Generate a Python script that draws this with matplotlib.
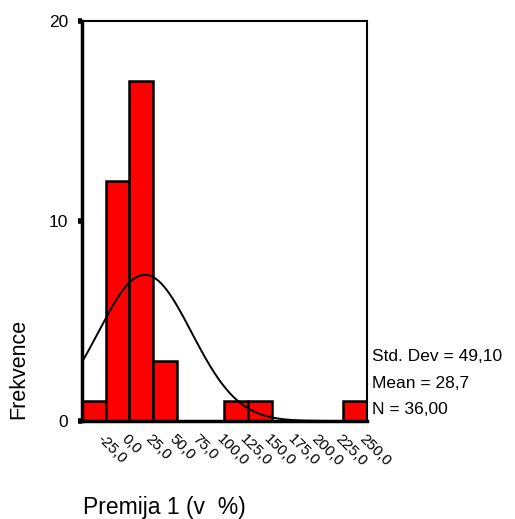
import numpy as np
import matplotlib.pyplot as plt
from matplotlib.transforms import ScaledTranslation

plt.rcParams["font.family"] = ["Liberation Sans", "DejaVu Sans"]

# histogram of Premija 1 (v %), bin width 25
BIN_CENTERS = [-25, 0, 25, 50, 75, 100, 125, 150, 175, 200, 225, 250]
COUNTS = [1, 12, 17, 3, 0, 0, 1, 1, 0, 0, 0, 1]
TICK_LABELS = ["-25,0", "0,0", "25,0", "50,0", "75,0", "100,0", "125,0",
               "150,0", "175,0", "200,0", "225,0", "250,0"]
STD_DEV = 49.10
MEAN = 28.7
N = 36
BIN_WIDTH = 25
STATS_LINES = ["Std. Dev = 49,10", "Mean = 28,7", "N = 36,00"]

fig = plt.figure(figsize=(5.15, 5.19), dpi=100)
ax = fig.add_axes([0.1592, 0.1888, 0.5534, 0.7707])

ax.bar(BIN_CENTERS, COUNTS, width=BIN_WIDTH, color="#ff0000",
       edgecolor="black", linewidth=1.8, zorder=2)

# normal curve fitted from the reported mean / std dev
xs = np.linspace(-37.5, 262.5, 400)
ys = N * BIN_WIDTH / (STD_DEV * np.sqrt(2 * np.pi)) * np.exp(-0.5 * ((xs - MEAN) / STD_DEV) ** 2)
ax.plot(xs, ys, color="black", linewidth=1.4, zorder=3)

ax.set_xlim(-37.5, 262.5)
ax.set_ylim(0, 20)

ax.spines["left"].set_linewidth(2.5)
ax.spines["bottom"].set_linewidth(2.5)
ax.spines["top"].set_linewidth(1.5)
ax.spines["right"].set_linewidth(1.5)

ax.set_yticks([0, 10, 20])
ax.tick_params(axis="y", length=3, width=4, direction="out", labelsize=12.5, pad=7)
ax.set_xticks(BIN_CENTERS)
ax.set_xticklabels(TICK_LABELS, rotation=-45, ha="left", va="top",
                   rotation_mode="anchor", fontsize=11)
ax.tick_params(axis="x", length=0, pad=5)
shift = ScaledTranslation(11 / 100, -4 / 100, fig.dpi_scale_trans)
for label in ax.get_xticklabels():
    label.set_transform(label.get_transform() + shift)

for y, line in zip([0.1625, 0.095, 0.03], STATS_LINES):
    ax.text(1.017, y, line, transform=ax.transAxes, fontsize=12.5, va="center")

fig.text(0.036, 0.29, "Frekvence", rotation=90, ha="center", va="center", fontsize=15.5)
fig.text(0.161, 0.023, "Premija 1 (v  %)", ha="left", va="center", fontsize=16.5)

fig.savefig("out.png", dpi=100)
